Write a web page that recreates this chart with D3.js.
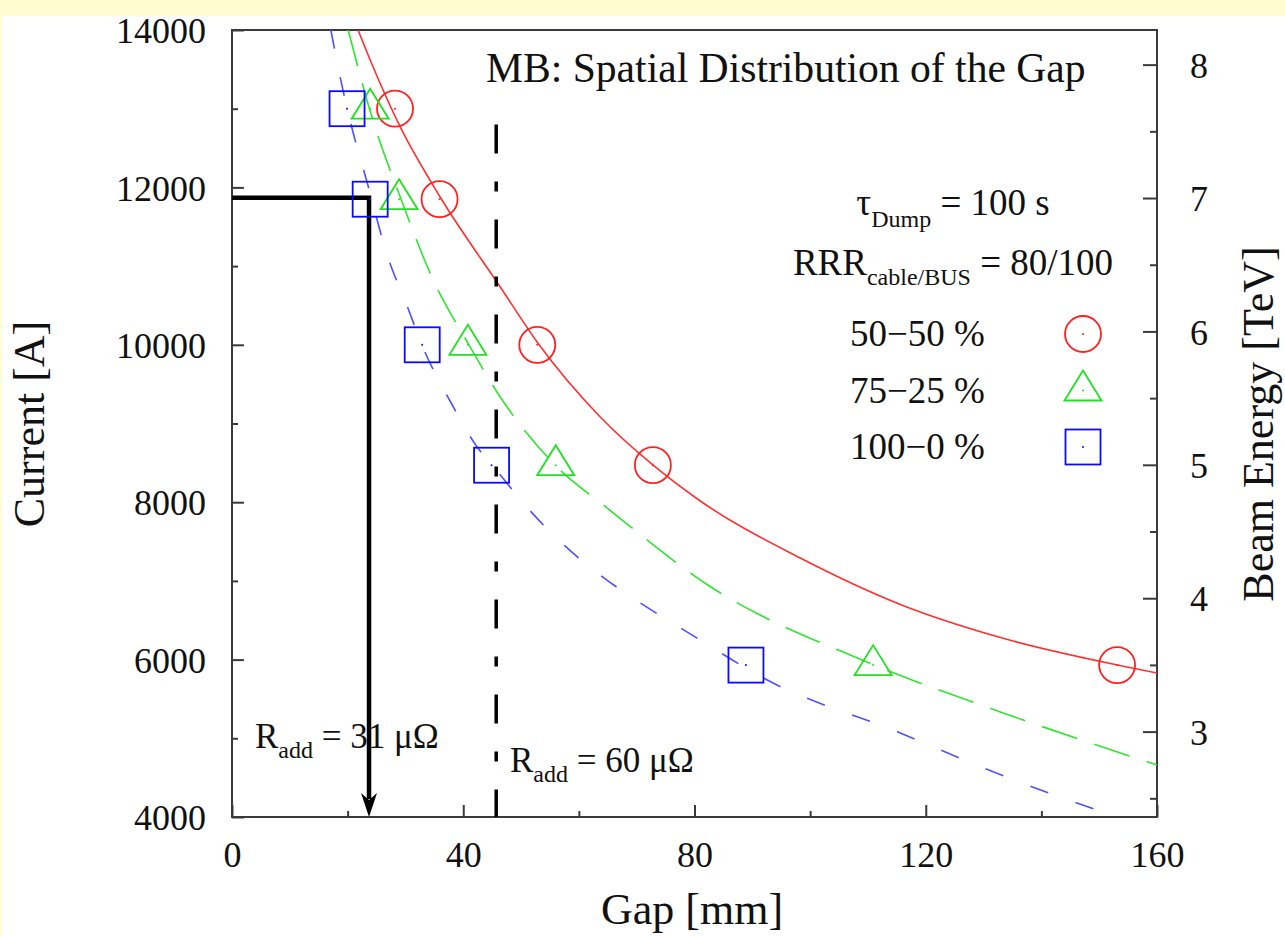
<!DOCTYPE html>
<html>
<head>
<meta charset="utf-8">
<script src="https://cdn.jsdelivr.net/npm/d3@7"></script>
<style>
  body { margin: 0; background: #fffcd2; }
  text { font-family: "Liberation Serif", "Times New Roman", serif; fill: #111; }
</style>
</head>
<body>
<script>
//page size
var w = 1285, h = 936;

//measured points: currents shared by all three series
var currents = [13000, 11850, 10000, 8470, 5930];
var gap5050 = [28.2, 35.9, 52.8, 72.8, 153.1];
var gap7525 = [23.9, 28.9, 40.8, 56.0, 110.9];
var gap1000 = [19.9, 23.9, 32.9, 44.9, 88.9];

//fitted curves [gap, current]
var fit5050 = [[21.8,14000],[23.9,13619],[29.1,12768],[36.0,11878],[46.4,10735],[52.9,10023],
    [63.7,9083],[72.8,8473],[81.0,8015],[98.3,7290],[115.6,6700],[132.9,6280],[153.1,5932],[160,5830]];
var fit7525 = [[20.1,14000],[24.2,12895],[29.1,11878],[34.8,10824],[40.8,10023],[46.4,9337],
    [56.2,8448],[64.9,7926],[82.3,6948],[109.8,5970],[132.9,5335],[160,4661]];
var fit1000 = [[17.1,14000],[18.7,13403],[20.4,12856],[23.4,12056],[27.0,11103],[30.1,10531],
    [33.0,9972],[38.1,9235],[42.4,8702],[45.0,8473],[51.0,7939],[83.2,6148],[91.9,5767],
    [115.6,5068],[131.1,4590],[153.1,4000],[160,3830]];

//axis ticks
var gapTicks = [0, 40, 80, 120, 160];
var gapMinor = [20, 60, 100, 140];
var currentTicks = [4000, 6000, 8000, 10000, 12000, 14000];
var currentMinor = [5000, 7000, 9000, 11000, 13000];
var energyTicks = [3, 4, 5, 6, 7, 8];
var energyMinor = [2.5, 3.5, 4.5, 5.5, 6.5, 7.5];
var ampsPerTeV = 1695;

//annotations
var arrowGap = 23.7, arrowCurrent = 11870;
var raddGap = 45.7, raddTop = 12800;

var legendLabels = ["50\u221250 %", "75\u221225 %", "100\u22120 %"];

window.onload = function(){

    var svg = d3.select("body").append("svg")
        .attr("width", w)
        .attr("height", h);

    //white sheet on the yellow page
    svg.append("rect")
        .attr("x", 2).attr("y", 16)
        .attr("width", w).attr("height", h)
        .style("fill", "#fff");

    var x = d3.scaleLinear().domain([0, 160]).range([232, 1157]);
    var y = d3.scaleLinear().domain([4000, 14000]).range([817, 30]);
    var yR = d3.scaleLinear().domain([4000 / ampsPerTeV, 14000 / ampsPerTeV]).range([817, 30]);

    svg.append("clipPath").attr("id", "plotClip")
        .append("rect")
        .attr("x", 232).attr("y", 30)
        .attr("width", 925).attr("height", 787);

    //axes, ticks pointing inward
    svg.append("g").attr("class", "axis").attr("transform", "translate(0,817)")
        .call(d3.axisBottom(x).tickValues(gapTicks).tickSize(-12).tickPadding(24).tickFormat(d3.format("d")));
    svg.append("g").attr("class", "axis").attr("transform", "translate(0,817)")
        .call(d3.axisBottom(x).tickValues(gapMinor).tickSize(-6).tickFormat(""));

    svg.append("g").attr("class", "axis").attr("transform", "translate(232,0)")
        .call(d3.axisLeft(y).tickValues(currentTicks).tickSize(-12).tickPadding(26).tickFormat(d3.format("d")));
    svg.append("g").attr("class", "axis").attr("transform", "translate(232,0)")
        .call(d3.axisLeft(y).tickValues(currentMinor).tickSize(-6).tickFormat(""));

    svg.append("g").attr("class", "axis").attr("transform", "translate(1157,0)")
        .call(d3.axisRight(yR).tickValues(energyTicks).tickSize(-14).tickPadding(33).tickFormat(d3.format("d")));
    svg.append("g").attr("class", "axis").attr("transform", "translate(1157,0)")
        .call(d3.axisRight(yR).tickValues(energyMinor).tickSize(-7).tickFormat(""));

    svg.selectAll(".axis .domain").remove();
    svg.selectAll(".axis line").style("stroke", "#3a3a3a").style("stroke-width", 2);
    svg.selectAll(".axis text")
        .style("font-family", "Liberation Serif, serif")
        .style("font-size", "36px")
        .style("fill", "#111");
    svg.selectAll(".axis text").filter(function(){ return this.getAttribute("dy") === "0.32em"; })
        .attr("dy", "0.35em");

    //frame
    svg.append("rect")
        .attr("x", 232).attr("y", 30)
        .attr("width", 925).attr("height", 787)
        .style("fill", "none")
        .style("stroke", "#3a3a3a")
        .style("stroke-width", 2);

    //fitted curves
    var line = d3.line()
        .x(function(d){ return x(d[0]); })
        .y(function(d){ return y(d[1]); })
        .curve(d3.curveMonotoneX);

    var curves = svg.append("g").attr("clip-path", "url(#plotClip)");
    curves.append("path").datum(fit5050).attr("d", line)
        .style("fill", "none").style("stroke", "#ff3030").style("stroke-width", 1.6);
    curves.append("path").datum(fit7525).attr("d", line)
        .style("fill", "none").style("stroke", "#2ee62e").style("stroke-width", 1.6)
        .style("stroke-dasharray", "37,18");
    curves.append("path").datum(fit1000).attr("d", line)
        .style("fill", "none").style("stroke", "#5050ff").style("stroke-width", 1.6)
        .style("stroke-dasharray", "19,29");

    //Radd = 60 line
    svg.append("line")
        .attr("x1", x(raddGap)).attr("x2", x(raddGap))
        .attr("y1", y(raddTop)).attr("y2", y(4000))
        .style("stroke", "#000").style("stroke-width", 3.5)
        .style("stroke-dasharray", "29,28,10,28");

    //Radd = 31 arrow
    svg.append("path")
        .attr("d", "M" + x(0) + "," + y(arrowCurrent) + "H" + x(arrowGap) + "V" + (y(4000) - 18))
        .style("fill", "none").style("stroke", "#000").style("stroke-width", 4.5);
    svg.append("path")
        .attr("transform", "translate(" + x(arrowGap) + "," + y(4000) + ")")
        .attr("d", "M0,0L-8,-24L0,-17L8,-24Z")
        .style("fill", "#000");

    //markers
    function drawMarker(g, shape, color){
        if (shape === "circle") {
            g.append("circle").attr("r", 18);
        } else if (shape === "triangle") {
            g.append("path").attr("d", "M0,-20L18.5,10L-18.5,10Z");
        } else {
            g.append("rect").attr("x", -17.5).attr("y", -17.5).attr("width", 35).attr("height", 35);
        }
        g.selectAll("circle, path, rect").style("fill", "none").style("stroke", color).style("stroke-width", 1.8);
        g.append("circle").attr("r", 1).style("fill", color);
    }

    var series = [
        {gaps: gap5050, shape: "circle", color: "#ff2020"},
        {gaps: gap7525, shape: "triangle", color: "#22e022"},
        {gaps: gap1000, shape: "square", color: "#0a0aff"}
    ];

    series.forEach(function(s){
        svg.selectAll(null)
            .data(s.gaps)
            .enter()
            .append("g")
            .attr("transform", function(d, i){ return "translate(" + x(d) + "," + y(currents[i]) + ")"; })
            .each(function(){ drawMarker(d3.select(this), s.shape, s.color); });
    });

    //title
    svg.append("text")
        .attr("x", 486).attr("y", 82)
        .style("font-size", "41.6px")
        .text("MB: Spatial Distribution of the Gap");

    //legend block
    var t1 = svg.append("text").attr("x", 953).attr("y", 215)
        .attr("text-anchor", "middle").style("font-size", "37px");
    t1.append("tspan").text("\u03c4");
    t1.append("tspan").attr("dy", 12).style("font-size", "24px").text("Dump");
    t1.append("tspan").attr("dy", -12).text(" = 100 s");

    var t2 = svg.append("text").attr("x", 953).attr("y", 275)
        .attr("text-anchor", "middle").style("font-size", "37px");
    t2.append("tspan").text("RRR");
    t2.append("tspan").attr("dy", 10).style("font-size", "24px").text("cable/BUS");
    t2.append("tspan").attr("dy", -10).text(" = 80/100");

    series.forEach(function(s, i){
        svg.append("text")
            .attr("x", 850).attr("y", 346 + i * 56.5)
            .style("font-size", "37px")
            .text(legendLabels[i]);
        var g = svg.append("g").attr("transform", "translate(1083," + (334 + i * 56.5) + ")");
        drawMarker(g, s.shape, s.color);
    });

    //resistance labels
    var r1 = svg.append("text").attr("x", 255).attr("y", 748).style("font-size", "35px");
    r1.append("tspan").text("R");
    r1.append("tspan").attr("dy", 10).style("font-size", "24px").text("add");
    r1.append("tspan").attr("dy", -10).text(" = 31 \u03bc\u03a9");

    var r2 = svg.append("text").attr("x", 510).attr("y", 772).style("font-size", "35px");
    r2.append("tspan").text("R");
    r2.append("tspan").attr("dy", 10).style("font-size", "24px").text("add");
    r2.append("tspan").attr("dy", -10).text(" = 60 \u03bc\u03a9");

    //axis titles
    svg.append("text")
        .attr("text-anchor", "middle")
        .attr("x", 692).attr("y", 924)
        .style("font-size", "44px")
        .text("Gap [mm]");

    svg.append("text")
        .attr("text-anchor", "middle")
        .attr("transform", "translate(44,424) rotate(-90)")
        .style("font-size", "44px")
        .text("Current [A]");

    svg.append("text")
        .attr("text-anchor", "middle")
        .attr("transform", "translate(1273,424) rotate(-90)")
        .style("font-size", "44px")
        .text("Beam Energy [TeV]");
};
</script>
</body>
</html>
